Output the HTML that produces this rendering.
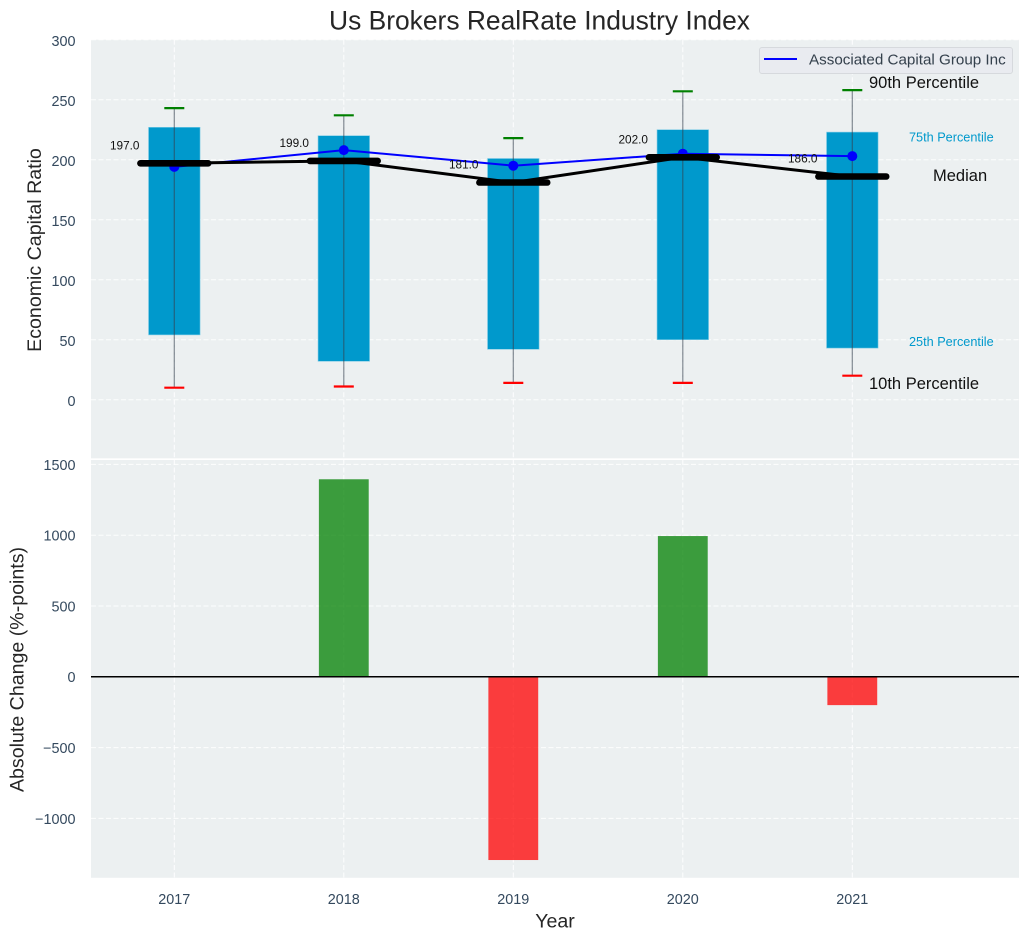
<!DOCTYPE html>
<html>
<head>
<meta charset="utf-8">
<title>Us Brokers RealRate Industry Index</title>
<style>
html,body{margin:0;padding:0;background:#fff;}
svg{display:block;font-family:"Liberation Sans",Arial,sans-serif;}
</style>
</head>
<body>
<svg id="chart" xmlns="http://www.w3.org/2000/svg" width="1029" height="940" viewBox="0 0 1029 940">
  <rect x="91" y="39.7" width="928" height="418.6" fill="#ecf0f1"/>
  <rect x="91" y="460" width="928" height="417.8" fill="#ecf0f1"/>
  <g id="layer-grid"></g>
  <g id="layer-marks"></g>
  <g id="layer-text"></g>
  <text x="539.5" y="29.5" font-size="26.4" text-anchor="middle" fill="#262626">Us Brokers RealRate Industry Index</text>
  <text transform="translate(40.8,250) rotate(-90)" font-size="19.6" text-anchor="middle" fill="#262626">Economic Capital Ratio</text>
  <text transform="translate(23.3,669.5) rotate(-90)" font-size="19.6" text-anchor="middle" fill="#262626">Absolute Change (%-points)</text>
  <text x="555" y="927.5" font-size="19.6" text-anchor="middle" fill="#262626">Year</text>
  <g>
    <rect x="759.5" y="47.5" width="253" height="26" rx="2.5" fill="#e9ebf0" stroke="#d6d9dd" stroke-width="1"/>
    <line x1="764" y1="59" x2="797" y2="59" stroke="#0000ff" stroke-width="2"/>
    <text x="809" y="64.3" font-size="15.2" fill="#34404c">Associated Capital Group Inc</text>
  </g>
</svg>
<script>
var years = [2017, 2018, 2019, 2020, 2021];
var p90 = [243, 237, 218, 257, 258];
var p75 = [227, 220, 201, 225, 223];
var p25 = [54, 32, 42, 50, 43];
var p10 = [10, 11, 14, 14, 20];
var median = [197, 199, 181, 202, 186];
var company = [194, 208, 195, 205, 203];
var change = [0, 1395, -1294, 994, -200];
var medianLabels = ['197.0', '199.0', '181.0', '202.0', '186.0'];
var topTicks = [0, 50, 100, 150, 200, 250, 300];
var bottomTicks = [-1000, -500, 0, 500, 1000, 1500];

var NS = 'http://www.w3.org/2000/svg';
var gridLayer = document.getElementById('layer-grid');
var markLayer = document.getElementById('layer-marks');
var textLayer = document.getElementById('layer-text');
var AX_L = 91, AX_R = 1019, TOP_T = 39.7, TOP_B = 458.3, BOT_T = 460, BOT_B = 877.8;

function xScale(v) { return 174.3 + (v - 2017) * 169.5; }
function yTop(v) { return 399.7 - v * 1.2; }
function yBot(v) { return 676.8 - v * 0.1416; }

function mk(parent, tag, attrs, text) {
  var el = document.createElementNS(NS, tag);
  for (var k in attrs) { el.setAttribute(k, attrs[k]); }
  if (text !== undefined) { el.textContent = text; }
  parent.appendChild(el);
  return el;
}
var el;
var GRID = { stroke: '#ffffff', 'stroke-width': 1, 'stroke-dasharray': '5 2.5', 'stroke-opacity': 0.9 };
function gridAttrs(x1, y1, x2, y2) {
  return Object.assign({ x1: x1, y1: y1, x2: x2, y2: y2 }, GRID);
}

topTicks.forEach(function (t) {
  el = mk(gridLayer, 'line', gridAttrs(AX_L, yTop(t), AX_R, yTop(t)));
  
  
  el = mk(textLayer, 'text', { x: 75.5, y: yTop(t) + 6.4, 'font-size': 14.4, 'text-anchor': 'end', fill: '#34495e' }, String(t));
  
  
});
bottomTicks.forEach(function (t) {
  if (t !== 0) {
    el = mk(gridLayer, 'line', gridAttrs(AX_L, yBot(t), AX_R, yBot(t)));
    
    
  }
  el = mk(textLayer, 'text', { x: 75.5, y: yBot(t) + 5.4, 'font-size': 14.4, 'text-anchor': 'end', fill: '#34495e' }, String(t).replace('-', '\u2212'));
  
  
});
years.forEach(function (y) {
  el = mk(gridLayer, 'line', gridAttrs(xScale(y), TOP_T, xScale(y), TOP_B));
  
  
  el = mk(gridLayer, 'line', gridAttrs(xScale(y), BOT_T, xScale(y), BOT_B));
  
  
  el = mk(textLayer, 'text', { x: xScale(y), y: 904, 'font-size': 14.4, 'text-anchor': 'middle', fill: '#34495e' }, String(y));
  
  
});

var IQR_HALF = 0.152, CHG_HALF = 0.147, MED_HALF = 0.2;

years.forEach(function (y, i) {
  el = mk(markLayer, 'rect', {
    x: xScale(y - IQR_HALF), y: yTop(p75[i]),
    width: xScale(y + IQR_HALF) - xScale(y - IQR_HALF),
    height: yTop(p25[i]) - yTop(p75[i]),
    fill: '#0099cc', stroke: '#7fcce6', 'stroke-width': 0.6
  });
  
  
});
years.forEach(function (y, i) {
  el = mk(markLayer, 'line', { x1: xScale(y), y1: yTop(p10[i]), x2: xScale(y), y2: yTop(p90[i]), stroke: '#34404c', 'stroke-opacity': 0.6, 'stroke-width': 1.2 });
  
  
  el = mk(markLayer, 'line', { x1: xScale(y) - 10, y1: yTop(p90[i]), x2: xScale(y) + 10, y2: yTop(p90[i]), stroke: '#008000', 'stroke-width': 2.2 });
  
  
  el = mk(markLayer, 'line', { x1: xScale(y) - 10, y1: yTop(p10[i]), x2: xScale(y) + 10, y2: yTop(p10[i]), stroke: '#ff0000', 'stroke-width': 2.2 });
  
  
});

el = mk(markLayer, 'polyline', {
  points: years.map(function (y, i) { return xScale(y) + ',' + yTop(company[i]); }).join(' '),
  fill: 'none', stroke: '#0000ff', 'stroke-width': 2
});


years.forEach(function (y, i) {
  el = mk(markLayer, 'circle', { cx: xScale(y), cy: yTop(company[i]), r: 5, fill: '#0000ff' });
  
  
});

el = mk(markLayer, 'polyline', {
  points: years.map(function (y, i) { return xScale(y) + ',' + yTop(median[i]); }).join(' '),
  fill: 'none', stroke: '#000000', 'stroke-width': 3
});


years.forEach(function (y, i) {
  el = mk(markLayer, 'line', { x1: xScale(y - MED_HALF), y1: yTop(median[i]), x2: xScale(y + MED_HALF), y2: yTop(median[i]), stroke: '#000000', 'stroke-width': 6.6, 'stroke-linecap': 'round' });
  
  
  el = mk(textLayer, 'text', { x: xScale(y) - 34.8, y: yTop(median[i]) - 14, 'font-size': 11.8, 'text-anchor': 'end', fill: '#111111' }, medianLabels[i]);
  
  
});

years.forEach(function (y, i) {
  if (change[i] === 0) { return; }
  var top = Math.min(yBot(change[i]), yBot(0));
  el = mk(markLayer, 'rect', {
    x: xScale(y - CHG_HALF), y: top,
    width: xScale(y + CHG_HALF) - xScale(y - CHG_HALF),
    height: Math.abs(yBot(change[i]) - yBot(0)),
    fill: change[i] > 0 ? '#008000' : '#ff0000', 'fill-opacity': 0.75
  });
  
  
});
el = mk(markLayer, 'line', { x1: AX_L, y1: yBot(0), x2: AX_R, y2: yBot(0), stroke: '#000000', 'stroke-width': 1.5 });



el = mk(textLayer, 'text', { x: 869, y: 88, 'font-size': 16.5, fill: '#111111' }, '90th Percentile');


el = mk(textLayer, 'text', { x: 909, y: 141.5, 'font-size': 12.7, fill: '#0099cc' }, '75th Percentile');


el = mk(textLayer, 'text', { x: 933, y: 181, 'font-size': 16.5, fill: '#111111' }, 'Median');


el = mk(textLayer, 'text', { x: 909, y: 346, 'font-size': 12.7, fill: '#0099cc' }, '25th Percentile');


el = mk(textLayer, 'text', { x: 869, y: 389, 'font-size': 16.5, fill: '#111111' }, '10th Percentile');


</script>
</body>
</html>
